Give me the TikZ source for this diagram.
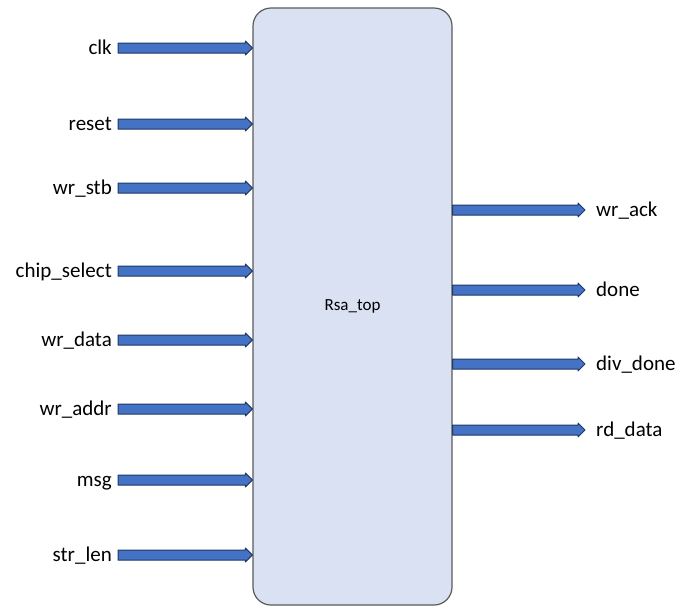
\documentclass[tikz,border=0pt]{standalone}
\usepackage{fontspec}
\setmainfont{Carlito}
\usetikzlibrary{calc}
\definecolor{sigblue}{HTML}{4472C4}
\definecolor{sigedge}{HTML}{1F3864}
\definecolor{boxfill}{HTML}{DAE1F2}
\definecolor{boxedge}{HTML}{5A5A5A}
\newcommand\sigarr[2]{%
  \draw[sigarrow] let \p1=(#1), \p2=(#2) in
    (\x1,{\y1+5pt}) -- ({\x2-7pt},{\y2+5pt}) -- ({\x2-7pt},{\y2+7pt}) --
    (\x2,\y2) -- ({\x2-7pt},{\y2-7pt}) -- ({\x2-7pt},{\y2-5pt}) --
    (\x1,{\y1-5pt}) -- cycle;}
\begin{document}
\begin{tikzpicture}[x=1pt,y=-1pt,
  sigarrow/.style={fill=sigblue,draw=sigedge,line width=1pt,line join=round},
  inlab/.style={anchor=base east,inner sep=0pt,font=\fontsize{21}{24}\selectfont},
  outlab/.style={anchor=base west,inner sep=0pt,font=\fontsize{21}{24}\selectfont},
  block/.style={draw=boxedge,fill=boxfill,line width=1.2pt,rounded corners=18pt,
    minimum width=199pt,minimum height=597pt,inner sep=0pt,
    font=\fontsize{17}{20}\selectfont}]
\useasboundingbox (0,0) rectangle (680,606);
\node[block] (top) at (352.5,306.5) {Rsa\_top};
% inputs
\foreach \nm/\txt/\yy in {clk/clk/48, reset/reset/124, wrstb/wr\_stb/188,
    chipsel/chip\_select/271, wrdata/wr\_data/340, wraddr/wr\_addr/409,
    msg/msg/480, strlen/str\_len/555}{
  \node[inlab] (l\nm) at (112,\yy+6) {\txt};
  \coordinate (s\nm) at (118,\yy);
  \sigarr{s\nm}{s\nm -| top.west}
}
% outputs
\foreach \nm/\txt/\yy in {wrack/wr\_ack/210, done/done/290,
    divdone/div\_done/364, rddata/rd\_data/430}{
  \coordinate (e\nm) at (585,\yy);
  \sigarr{e\nm -| top.east}{e\nm}
  \node[outlab] (l\nm) at (596,\yy+6) {\txt};
}
\end{tikzpicture}
\end{document}
